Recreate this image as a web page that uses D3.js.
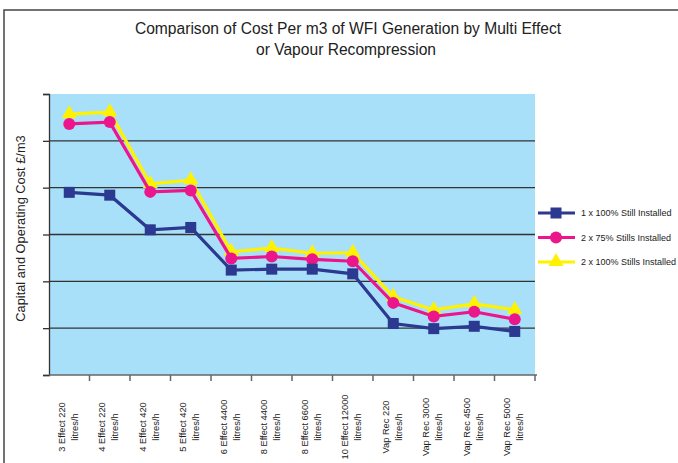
<!DOCTYPE html>
<html>
<head>
<meta charset="utf-8">
<script src="https://cdn.jsdelivr.net/npm/d3@7"></script>
<style>
  body { margin: 0; background: #fff; }
  svg { display: block; font-family: "Liberation Sans", Arial, sans-serif; }
</style>
</head>
<body>
<svg id="chart" width="678" height="463"></svg>
<script>
var categories = [
    ["3 Effect 220", "litres/h"], ["4 Effect 220", "litres/h"], ["4 Effect 420", "litres/h"],
    ["5 Effect 420", "litres/h"], ["6 Effect 4400", "litres/h"], ["8 Effect 4400", "litres/h"],
    ["8 Effect 6600", "litres/h"], ["10 Effect 12000", "litres/h"], ["Vap Rec 220", "litres/h"],
    ["Vap Rec 3000", "litres/h"], ["Vap Rec 4500", "litres/h"], ["Vap Rec 5000", "litres/h"]
]
var one100 = [3.90, 3.84, 3.10, 3.15, 2.24, 2.26, 2.26, 2.16, 1.10, 0.99, 1.04, 0.93]
var two75 = [5.36, 5.40, 3.91, 3.94, 2.49, 2.53, 2.47, 2.43, 1.54, 1.25, 1.35, 1.19]
var two100 = [5.57, 5.61, 4.08, 4.16, 2.63, 2.71, 2.60, 2.61, 1.67, 1.39, 1.52, 1.39]
var yTicks = [0, 1, 2, 3, 4, 5, 6]

var series = [
    { name: "2 x 100% Stills Installed", values: two100, color: "#fff200", marker: "triangle" },
    { name: "2 x 75% Stills Installed", values: two75, color: "#ec168c", marker: "circle" },
    { name: "1 x 100% Still Installed", values: one100, color: "#2b3990", marker: "square" }
]

var margin = { top: 94, left: 49, right: 143, bottom: 88 }
var width = 678 - margin.left - margin.right
var height = 463 - margin.top - margin.bottom

var svg = d3.select("#chart")

// outer frame
svg.append("rect")
    .attr("x", 4).attr("y", 10)
    .attr("width", 700).attr("height", 500)
    .attr("fill", "none")
    .attr("stroke", "#444")
    .attr("stroke-width", 1.5)

svg.append("text")
    .attr("x", 348).attr("y", 34)
    .attr("text-anchor", "middle")
    .style("font-size", "15.6px")
    .style("fill", "#222")
    .text("Comparison of Cost Per m3 of WFI Generation by Multi Effect")
svg.append("text")
    .attr("x", 346).attr("y", 55)
    .attr("text-anchor", "middle")
    .style("font-size", "15.6px")
    .style("fill", "#222")
    .text("or Vapour Recompression")

svg.append("text")
    .attr("transform", "translate(25," + (margin.top + height / 2 - 6) + ") rotate(-90)")
    .attr("text-anchor", "middle")
    .style("font-size", "12.8px")
    .style("fill", "#222")
    .text("Capital and Operating Cost £/m3")

var g = svg.append("g")
    .attr("transform", "translate(" + margin.left + "," + margin.top + ")")

var x = d3.scaleBand()
    .domain(d3.range(categories.length))
    .range([0, width])

var y = d3.scaleLinear()
    .domain([0, 6])
    .range([height, 0])

g.append("rect")
    .attr("width", width).attr("height", height)
    .attr("fill", "#a9e0f9")

// gridlines
g.selectAll(".grid")
    .data(yTicks.slice(1, -1))
    .join("line")
    .attr("x1", 0).attr("x2", width)
    .attr("y1", d => y(d)).attr("y2", d => y(d))
    .attr("stroke", "#333")
    .attr("stroke-width", 1.3)

// y axis
g.append("g")
    .call(d3.axisLeft(y).tickValues(yTicks).tickSize(6).tickFormat(""))
    .call(a => a.selectAll("line, path").attr("stroke", "#333").attr("stroke-width", 1.3))

// x axis with ticks at category boundaries
var xAxis = g.append("g").attr("transform", "translate(0," + height + ")")
xAxis.append("line")
    .attr("x1", 0).attr("x2", width + 2)
    .attr("stroke", "#666").attr("stroke-width", 1.5)
xAxis.selectAll(".tk")
    .data(d3.range(1, categories.length + 1))
    .join("line")
    .attr("x1", d => x.step() * d).attr("x2", d => x.step() * d)
    .attr("y1", 0).attr("y2", 6)
    .attr("stroke", "#666").attr("stroke-width", 1.5)

var labels = xAxis.selectAll(".lbl")
    .data(categories)
    .join("g")
    .attr("transform", (d, i) => "translate(" + (x(i) + x.bandwidth() / 2) + ",52)")
labels.each(function (d) {
    var lg = d3.select(this)
    d.forEach(function (line, j) {
        lg.append("text")
            .attr("transform", "translate(" + (j === 0 ? -8 : 5) + ",0) rotate(-90)")
            .attr("text-anchor", "middle")
            .attr("dy", "0.35em")
            .style("font-size", "9.3px")
            .style("fill", "#222")
            .text(line)
    })
})

var line = d3.line()
    .x((d, i) => x(i) + x.bandwidth() / 2)
    .y(d => y(d))

function drawMarker(sel, marker, color) {
    if (marker === "square") {
        sel.append("rect").attr("x", -5.5).attr("y", -5.5).attr("width", 11).attr("height", 11).attr("fill", color)
    } else if (marker === "circle") {
        sel.append("circle").attr("r", 6).attr("fill", color)
    } else {
        sel.append("path").attr("d", "M0,-9L7.5,4L-7.5,4Z").attr("fill", color)
    }
}

series.forEach(function (s) {
    g.append("path")
        .datum(s.values)
        .attr("d", line)
        .attr("fill", "none")
        .attr("stroke", s.color)
        .attr("stroke-width", 3.2)
    g.selectAll(null)
        .data(s.values)
        .join("g")
        .attr("transform", (d, i) => "translate(" + (x(i) + x.bandwidth() / 2) + "," + y(d) + ")")
        .each(function () { drawMarker(d3.select(this), s.marker, s.color) })
})

// legend
var legend = svg.append("g").attr("transform", "translate(538,213)")
var legendRows = series.slice().reverse()
legendRows.forEach(function (s, i) {
    var row = legend.append("g").attr("transform", "translate(0," + (i * 24.5) + ")")
    row.append("line").attr("x1", 0).attr("x2", 37).attr("stroke", s.color).attr("stroke-width", 3)
    drawMarker(row.append("g").attr("transform", "translate(18,0)"), s.marker, s.color)
    row.append("text")
        .attr("x", 43).attr("dy", "0.35em")
        .style("font-size", "9px")
        .style("fill", "#222")
        .text(s.name)
})
</script>
</body>
</html>
